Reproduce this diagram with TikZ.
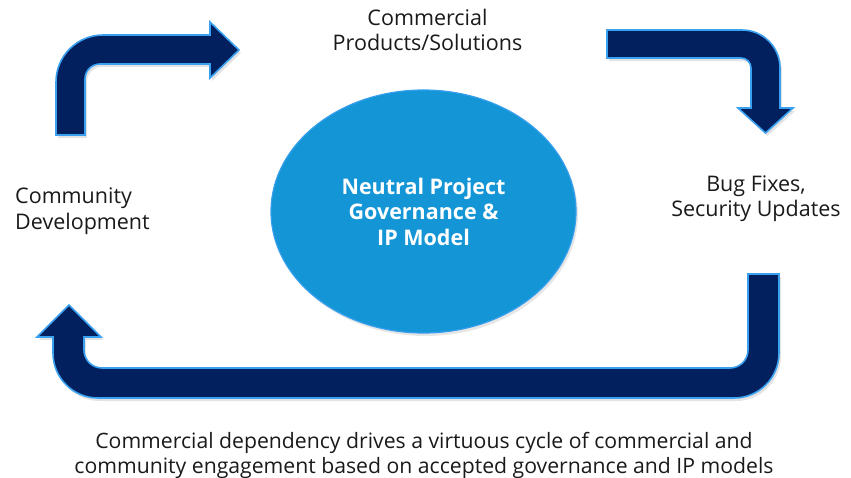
\documentclass[tikz,border=0pt]{standalone}
\usepackage{fontspec}
\setmainfont{Open Sans}
\usetikzlibrary{shapes.geometric,shadows}

\definecolor{navy}{RGB}{2,32,94}
\definecolor{edgeblue}{RGB}{58,160,240}
\definecolor{coreblue}{RGB}{19,149,214}
\definecolor{textgray}{RGB}{26,26,26}

\begin{document}
\begin{tikzpicture}[x=1pt,y=-1pt,
	bent/.style={fill=navy,draw=edgeblue,line width=1.6pt,line join=miter,
		drop shadow={shadow xshift=2pt,shadow yshift=-3pt,opacity=0.22}},
	core/.style={ellipse,fill=coreblue,draw=edgeblue!90!coreblue,line width=1.2pt,
		minimum width=305pt,minimum height=243pt,inner sep=0pt,text=white,
		font=\fontsize{21.5}{25.5}\selectfont\bfseries,align=center,
		drop shadow={shadow xshift=2pt,shadow yshift=-3pt,opacity=0.2}},
	stage/.style={text=textgray,font=\fontsize{21.5}{25.5}\selectfont,inner sep=0pt}]
	\useasboundingbox (0,0) rectangle (851,477);
	% cycle arrows
	\path[bent] (56,135) [rounded corners=47pt] -- (56,35) [sharp corners] -- (210,35)
		-- (210,22) -- (239,50) -- (210,78) -- (210,64) [rounded corners=15pt] -- (85,64)
		[sharp corners] -- (85,135) -- cycle;
	\path[bent] (607,30) [rounded corners=38pt] -- (780,30) [sharp corners] -- (780,108)
		-- (793,108) -- (765.5,133) -- (738,108) -- (751,108) [rounded corners=10pt] -- (751,58)
		[sharp corners] -- (607,58) -- cycle;
	\path[bent] (779,274) [rounded corners=45pt] -- (779,398) -- (53,398) [sharp corners]
		-- (53,337) -- (37,337) -- (69,305) -- (101,337) -- (84,337) [rounded corners=18pt]
		-- (84,368) -- (748,368) [sharp corners] -- (748,274) -- cycle;
	% nodes
	\node[core] (model) at (423.5,211.5) {Neutral Project\\Governance \&\\IP Model};
	\node[stage,align=center] (products) at (427.5,30) {Commercial\\Products/Solutions};
	\node[stage,align=left,anchor=west] (community) at (15,211) {Community\\Development};
	\node[stage,align=center] (fixes) at (756,198.5) {Bug Fixes,\\Security Updates};
	\node[stage,align=center,font=\fontsize{21.2}{25}\selectfont] (caption) at (424,455) {Commercial dependency drives a virtuous cycle of commercial and\\community engagement based on accepted governance and IP models};
\end{tikzpicture}
\end{document}
